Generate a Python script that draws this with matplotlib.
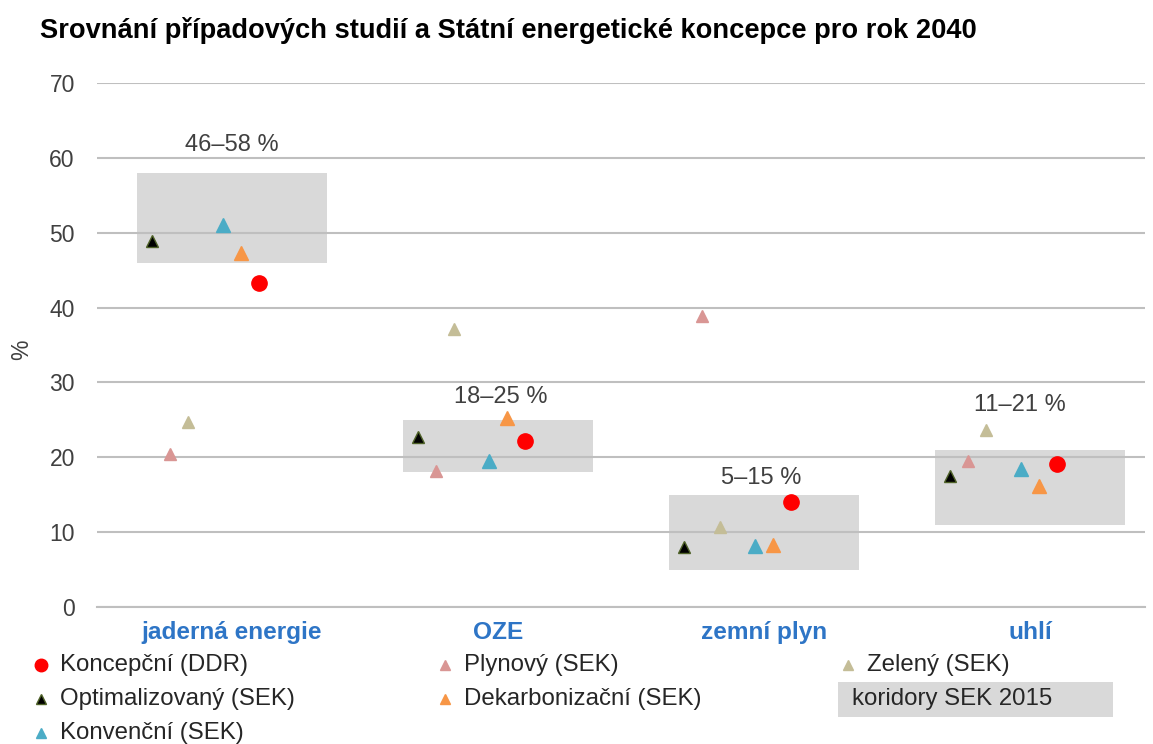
import numpy as np
import matplotlib
matplotlib.use("Agg")
import matplotlib.pyplot as plt
from matplotlib.lines import Line2D
from matplotlib.patches import Rectangle

plt.rcParams['font.family'] = ['Liberation Sans', 'DejaVu Sans']

# Data
categories = ['jaderná energie', 'OZE', 'zemní plyn', 'uhlí']
corridor_low = [46, 18, 5, 11]
corridor_high = [58, 25, 15, 21]
corridor_labels = ['46–58 %', '18–25 %', '5–15 %', '11–21 %']

series_names = ['Koncepční (DDR)', 'Optimalizovaný (SEK)', 'Konvenční (SEK)',
                'Plynový (SEK)', 'Dekarbonizační (SEK)', 'Zelený (SEK)']
koncepcni = [43.3, 22.2, 14.0, 19.1]
optimalizovany = [48.9, 22.7, 8.0, 17.5]
konvencni = [51.0, 19.5, 8.1, 18.4]
plynovy = [20.4, 18.2, 38.9, 19.5]
dekarbonizacni = [47.3, 25.2, 8.3, 16.2]
zeleny = [24.7, 37.1, 10.7, 23.6]
series_values = [koncepcni, optimalizovany, konvencni, plynovy, dekarbonizacni, zeleny]

# Styles: (marker, face colour, edge colour, size, x offset within category)
styles = [
    ('o', '#FF0000', '#FF0000', 11, 0.10),
    ('^', '#000000', '#4F6228', 9, -0.30),
    ('^', '#4BACC6', '#4BACC6', 10, -0.034),
    ('^', '#D99694', '#D99694', 9, -0.233),
    ('^', '#F79646', '#F79646', 10, 0.034),
    ('^', '#C4BD97', '#C4BD97', 9, -0.165),
]
box_width = 0.714
label_y = [61.7, 28.0, 17.2, 27.0]
label_dx = [0.0, 0.01, -0.01, -0.04]

W, H = 1153, 744
fig = plt.figure(figsize=(W / 100, H / 100), dpi=100)
ax = fig.add_axes([97 / W, 1 - 607 / H, (1145 - 97) / W, (607 - 83) / H])

x = np.arange(len(categories))

# Grid
ax.set_ylim(0, 70)
ax.set_xlim(-0.508, 3.432)
ax.set_yticks(range(0, 71, 10))
ax.yaxis.grid(True, color='#BFBFBF', lw=1.5, zorder=0)
for s in ['top', 'right', 'left']:
    ax.spines[s].set_visible(False)
ax.spines['bottom'].set_color('#BFBFBF')
ax.spines['bottom'].set_linewidth(1.5)
ax.tick_params(axis='y', length=0, labelsize=16.5, labelcolor='#404040', pad=16)
ax.tick_params(axis='x', length=0)
ax.set_xticks(x)
ax.set_xticklabels(categories, fontsize=17.6, fontweight='bold', color='#2E75C6')
ax.tick_params(axis='x', pad=10)

# y-axis title
fig.text(22 / W, 1 - 350 / H, '%', fontsize=16.5, color='#404040', rotation=90,
         ha='center', va='center')

# Corridors
for i in range(len(categories)):
    ax.add_patch(Rectangle((x[i] - box_width / 2, corridor_low[i]), box_width,
                           corridor_high[i] - corridor_low[i],
                           facecolor='#D9D9D9', edgecolor='none', zorder=1))
    ax.text(x[i] + label_dx[i], label_y[i], corridor_labels[i], ha='center', va='center',
            fontsize=17, color='#404040', zorder=3)

# Scenario markers
for vals, (mk, fc, ec, ms, dx) in zip(series_values, styles):
    ax.plot(x + dx, vals, linestyle='none', marker=mk, markerfacecolor=fc,
            markeredgecolor=ec, markersize=ms, markeredgewidth=1, zorder=4)

# Title
fig.text(40 / W, 1 - 30 / H, 'Srovnání případových studií a Státní energetické koncepce pro rok 2040',
         fontsize=19.6, fontweight='bold', color='#000000', va='center', ha='left')

# Legend (manual layout)
legend_pos = [(41, 665), (41, 699), (41, 733), (445, 665), (445, 699), (848, 665)]
for name, (mk, fc, ec, ms, dx), (px, py) in zip(series_names, styles, legend_pos):
    fig.add_artist(Line2D([px / W], [1 - py / H], transform=fig.transFigure,
                          marker=mk, markersize=9 if mk == 'o' else 7,
                          markerfacecolor=fc, markeredgecolor=ec, linestyle='none'))
    fig.text((px + 19) / W, 1 - py / H, name, fontsize=17.3, color='#262626',
             va='center', ha='left')
fig.add_artist(Rectangle((838 / W, 1 - 717 / H), (1113 - 838) / W, 35 / H,
                         transform=fig.transFigure, facecolor='#D9D9D9', edgecolor='none'))
fig.text(852 / W, 1 - 699 / H, 'koridory SEK 2015', fontsize=17.3, color='#262626',
         va='center', ha='left')

fig.savefig('out.png', dpi=100)
